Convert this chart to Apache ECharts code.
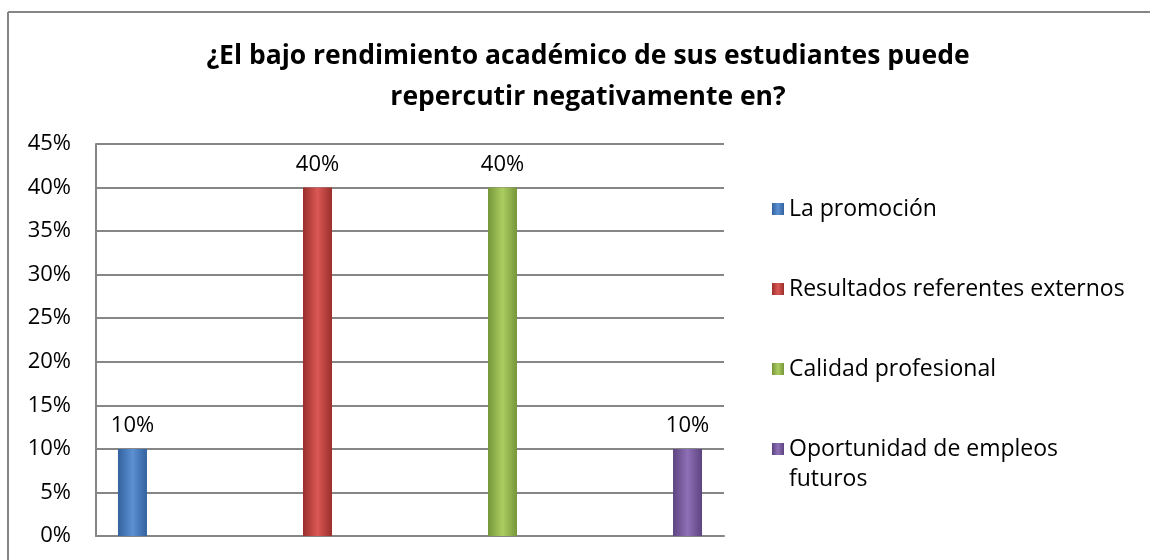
<!DOCTYPE html>
<html>
<head>
<meta charset="utf-8">
<script src="https://cdn.jsdelivr.net/npm/echarts@6/dist/echarts.min.js"></script>
<style>
  html, body { margin: 0; padding: 0; background: #fff; }
  #chart { width: 1150px; height: 560px; }
</style>
</head>
<body>
<div id="chart"></div>
<script>
var seriesNames = ['La promoción', 'Resultados referentes externos', 'Calidad profesional', 'Oportunidad de empleos futuros'];
var seriesValues = [10, 40, 40, 10];
var yTicks = [0, 5, 10, 15, 20, 25, 30, 35, 40, 45];
// edge / middle tones for the bevelled look
var edgeColors = ['#33629e', '#9a2e2b', '#76963a', '#5c4480'];
var midColors = ['#5b90d2', '#da5855', '#abcd60', '#8f70b6'];

var FONT = 'Open Sans';
var chart = echarts.init(document.getElementById('chart'));

function grad(i) {
    return new echarts.graphic.LinearGradient(0, 0, 1, 0, [
        { offset: 0, color: edgeColors[i] },
        { offset: 0.5, color: midColors[i] },
        { offset: 1, color: edgeColors[i] }
    ]);
}

var series = seriesNames.map(function (name, i) {
    return {
        name: name,
        type: 'bar',
        data: [seriesValues[i]],
        barWidth: 29,
        barGap: '538%',
        itemStyle: { color: grad(i) },
        label: {
            show: true,
            position: 'top',
            distance: 12,
            formatter: '{c}%',
            color: '#000',
            fontSize: 22,
            fontFamily: FONT
        }
    };
});

var option = {
    animation: false,
    backgroundColor: '#fff',
    title: {
        text: '¿El bajo rendimiento académico de sus estudiantes puede\nrepercutir negativamente en?',
        left: 583,
        top: 31,
        textAlign: 'center',
        textStyle: { fontSize: 26.5, fontWeight: 'bold', fontFamily: FONT, color: '#000', lineHeight: 41 }
    },
    legend: {
        orient: 'vertical',
        left: 767,
        top: 189,
        itemWidth: 12,
        itemHeight: 12,
        itemGap: 50,
        icon: 'rect',
        textStyle: { fontSize: 23, fontFamily: FONT, color: '#000', lineHeight: 30 },
        // second line of the last entry is drawn below as a graphic text
        formatter: function (n) {
            return n === seriesNames[3] ? 'Oportunidad de empleos' : n;
        },
        data: seriesNames.map(function (n, i) {
            return { name: n, itemStyle: { color: grad(i) } };
        })
    },
    grid: { left: 96, right: 426, top: 144, bottom: 24 },
    xAxis: {
        type: 'category',
        data: [''],
        axisLine: { show: true, lineStyle: { color: '#868686', width: 2 } },
        axisTick: { show: false },
        axisLabel: { show: false }
    },
    yAxis: {
        type: 'value',
        min: yTicks[0],
        max: yTicks[yTicks.length - 1],
        interval: 5,
        axisLine: { show: true, lineStyle: { color: '#868686', width: 2 } },
        axisTick: { show: false },
        axisLabel: { formatter: '{value}%', fontSize: 22, fontFamily: FONT, color: '#000', margin: 25 },
        splitLine: { lineStyle: { color: '#868686', width: 2 } }
    },
    graphic: [
        { type: 'line', shape: { x1: 8, y1: 12, x2: 1150, y2: 12 }, style: { stroke: '#868686', lineWidth: 2 } },
        { type: 'line', shape: { x1: 8, y1: 12, x2: 8, y2: 560 }, style: { stroke: '#868686', lineWidth: 2 } },
        {
            type: 'text', left: 789, top: 468,
            style: { text: 'futuros', fontSize: 23, fontFamily: FONT, fill: '#000' }
        }
    ],
    series: series
};

chart.setOption(option);
</script>
</body>
</html>
